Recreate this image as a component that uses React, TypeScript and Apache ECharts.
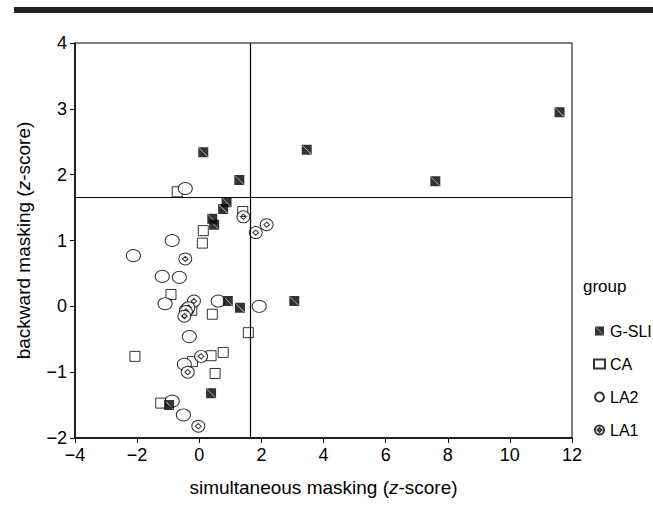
import React, { useEffect, useRef } from "react";
import * as echarts from "echarts";

const xTicks = { min: -4, max: 12, interval: 2 };
const yTicks = { min: -2, max: 4, interval: 1 };
const cutoffs = [1.645, 1.645]; // vertical x cutoff, horizontal y cutoff

const gsli: number[][] = [
  [0.13, 2.34], [1.29, 1.92], [3.46, 2.38], [7.6, 1.9], [11.6, 2.95],
  [0.88, 1.58], [0.77, 1.48], [0.42, 1.33], [0.48, 1.24], [0.92, 0.08],
  [1.31, -0.02], [3.06, 0.08], [0.38, -1.32], [-0.97, -1.5],
];
const ca: number[][] = [
  [-0.71, 1.74], [1.4, 1.44], [0.13, 1.15], [0.1, 0.96], [-0.91, 0.18],
  [-0.24, -0.06], [0.42, -0.12], [1.58, -0.4], [-2.07, -0.76], [0.38, -0.75],
  [0.77, -0.7], [-0.22, -0.84], [0.51, -1.02], [-1.24, -1.47],
];
const la2: number[][] = [
  [-0.45, 1.79], [-0.87, 1.0], [-2.12, 0.77], [-1.19, 0.455], [-0.64, 0.44],
  [-1.1, 0.04], [0.61, 0.08], [1.93, 0.0], [-0.32, -0.46], [-0.48, -0.88],
  [-0.87, -1.44], [-0.51, -1.65], [-0.4, -0.05],
];
const la1: number[][] = [
  [1.42, 1.36], [1.82, 1.12], [2.17, 1.24], [-0.45, 0.72], [-0.17, 0.08],
  [-0.35, -0.02], [-0.43, -0.08], [-0.48, -0.15], [0.06, -0.76], [-0.37, -1.0],
  [-0.03, -1.82],
];

const FONT = "Liberation Sans, Arial, sans-serif";
const fmt = (v: number) => String(v).replace("-", "\u2212");

const SYM_GSLI =
  "path://M0,0L10,0L10,10L0,10Z M0.8,0.5L0.5,0.8L9.2,9.5L9.5,9.2Z";
const SYM_LA1 =
  "path://M0,6a6,6 0 1,0 12,0a6,6 0 1,0 -12,0Z M6,3.4L8.6,6L6,8.6L3.4,6Z";

export default function App() {
  const ref = useRef<HTMLDivElement>(null);
  useEffect(() => {
    document.body.style.margin = "0";
    const chart = echarts.init(ref.current!, undefined, { renderer: "svg" });
    chart.setOption({
      animation: false,
      backgroundColor: "#fff",
      textStyle: { fontFamily: FONT, color: "#000" },
      grid: {
        left: 75, right: 81, top: 43, bottom: 82,
        show: true, borderColor: "#000", borderWidth: 1,
      },
      graphic: [
        { type: "rect", left: 14, top: 7, shape: { width: 639, height: 6 }, style: { fill: "#231f20" } },
        { type: "text", left: 583, top: 278, style: { text: "group", font: `17px ${FONT}`, fill: "#000" } },
      ],
      legend: {
        orient: "vertical",
        left: 588,
        top: 318,
        itemWidth: 11,
        itemHeight: 9,
        itemGap: 17,
        textStyle: { fontSize: 16, fontFamily: FONT, color: "#000" },
        data: ["G-SLI", "CA", "LA2", "LA1"],
      },
      xAxis: {
        type: "value",
        ...xTicks,
        name: "simultaneous masking ({i|z}-score)",
        nameLocation: "middle",
        nameGap: 40,
        nameTextStyle: {
          fontSize: 19, fontFamily: FONT, color: "#000",
          rich: { i: { fontSize: 19, fontStyle: "italic", fontFamily: FONT, color: "#000" } },
        },
        axisLine: { onZero: false, lineStyle: { color: "#000", width: 1.5 } },
        axisTick: { length: 5, lineStyle: { color: "#000" } },
        axisLabel: { fontSize: 18, color: "#000", margin: 8, formatter: fmt },
        splitLine: { show: false },
      },
      yAxis: {
        type: "value",
        ...yTicks,
        name: "backward masking ({i|z}-score)",
        nameLocation: "middle",
        nameGap: 42,
        nameTextStyle: {
          fontSize: 19, fontFamily: FONT, color: "#000",
          rich: { i: { fontSize: 19, fontStyle: "italic", fontFamily: FONT, color: "#000" } },
        },
        axisLine: { onZero: false, lineStyle: { color: "#000", width: 1.5 } },
        axisTick: { length: 5, lineStyle: { color: "#000" } },
        axisLabel: { fontSize: 18, color: "#000", margin: 8, formatter: fmt },
        splitLine: { show: false },
      },
      series: [
        {
          name: "CA",
          type: "scatter",
          data: ca,
          symbol: "rect",
          symbolSize: 10,
          itemStyle: { color: "#fff", borderColor: "#000", borderWidth: 1 },
          markLine: {
            silent: true,
            symbol: "none",
            label: { show: false },
            lineStyle: { color: "#000", type: "solid", width: 1.2 },
            data: [{ xAxis: cutoffs[0] }, { yAxis: cutoffs[1] }],
          },
          z: 2,
        },
        {
          name: "LA2",
          type: "scatter",
          data: la2,
          symbol: "circle",
          symbolSize: [14, 12],
          itemStyle: { color: "#fff", borderColor: "#000", borderWidth: 1 },
          z: 3,
        },
        {
          name: "LA1",
          type: "scatter",
          data: la1,
          symbol: SYM_LA1,
          symbolSize: [13, 12],
          itemStyle: { color: "#fff", borderColor: "#000", borderWidth: 1 },
          z: 4,
        },
        {
          name: "G-SLI",
          type: "scatter",
          data: gsli,
          symbol: SYM_GSLI,
          symbolSize: 10,
          itemStyle: { color: "#000" },
          z: 5,
        },
      ],
    });
    return () => chart.dispose();
  }, []);
  return <div ref={ref} style={{ width: 653, height: 520 }} />;
}
